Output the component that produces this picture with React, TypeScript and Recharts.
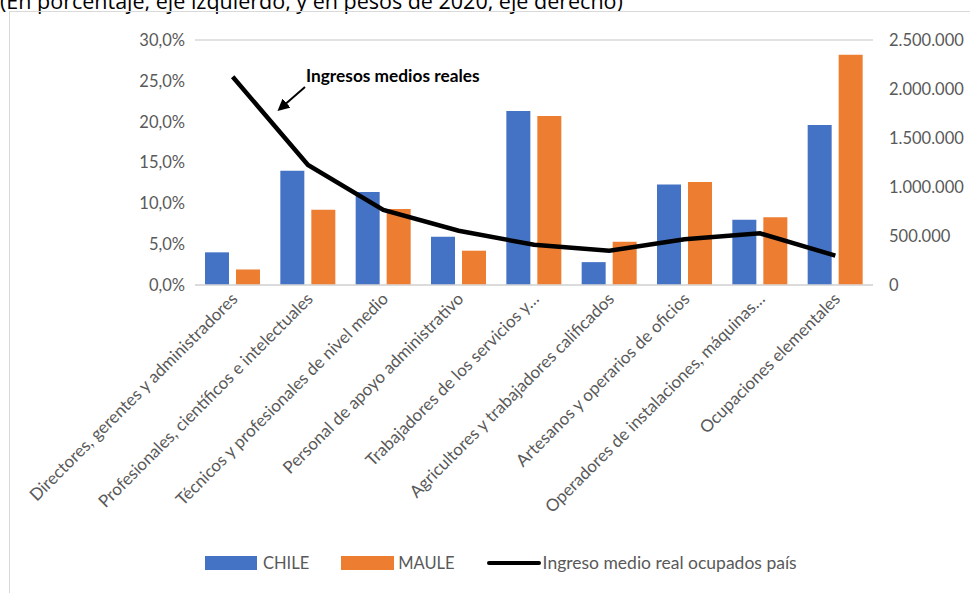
import {
  ComposedChart,
  Bar,
  Line,
  XAxis,
  YAxis,
  CartesianGrid,
} from "recharts";

const categorias = [
  "Directores, gerentes y administradores",
  "Profesionales, científicos e intelectuales",
  "Técnicos y profesionales de nivel medio",
  "Personal de apoyo administrativo",
  "Trabajadores de los servicios y…",
  "Agricultores y trabajadores calificados",
  "Artesanos y operarios de oficios",
  "Operadores de instalaciones, máquinas…",
  "Ocupaciones elementales",
];
const chile = [4.0, 14.0, 11.4, 5.9, 21.3, 2.8, 12.3, 8.0, 19.6];
const maule = [1.9, 9.2, 9.3, 4.2, 20.7, 5.3, 12.6, 8.3, 28.2];
const ingresoMedio = [
  2125000, 1224000, 765000, 554000, 410000, 350000, 466000, 527000, 300000,
];
const ticksIzq = [0, 5, 10, 15, 20, 25, 30];
const ticksDer = [0, 500000, 1000000, 1500000, 2000000, 2500000];

const data = categorias.map((name, i) => ({
  name,
  CHILE: chile[i],
  MAULE: maule[i],
  ingreso: ingresoMedio[i],
}));

const FONT = "Lato, 'Open Sans', sans-serif";
const GRIS = "#595959";

const fmtPct = (v: number) => v.toFixed(1).replace(".", ",") + "%";
const fmtPesos = (v: number) =>
  v === 0 ? "0" : String(v).replace(/\B(?=(\d{3})+(?!\d))/g, ".");

const XTick = (props: any) => {
  const { x, y, payload } = props;
  const ax = x + 6;
  const ay = y + 7;
  return (
    <text
      x={ax}
      y={ay}
      transform={`rotate(-45 ${ax} ${ay})`}
      textAnchor="end"
      fontSize={17}
      fontFamily={FONT}
      fill={GRIS}
    >
      {payload.value}
    </text>
  );
};

const Leyenda = () => (
  <div
    style={{
      position: "absolute",
      top: 552,
      left: 205,
      display: "flex",
      alignItems: "center",
      fontFamily: FONT,
      fontSize: 16.5,
      color: GRIS,
    }}
  >
    <span style={{ width: 52, height: 14, background: "#4472C4", display: "inline-block" }} />
    <span style={{ marginLeft: 6, marginRight: 32 }}>CHILE</span>
    <span style={{ width: 53, height: 14, background: "#ED7D31", display: "inline-block" }} />
    <span style={{ marginLeft: 4, marginRight: 32 }}>MAULE</span>
    <span style={{ width: 54, height: 4, background: "#000", borderRadius: 2, display: "inline-block" }} />
    <span style={{ marginLeft: 2, fontSize: 17.5 }}>Ingreso medio real ocupados país</span>
  </div>
);

export default function App() {
  return (
    <div
      style={{
        position: "absolute",
        left: 0,
        top: 0,
        width: 970,
        height: 593,
        overflow: "hidden",
        background: "#fff",
        fontFamily: FONT,
      }}
    >
      <div
        style={{
          position: "absolute",
          left: 0,
          top: -14,
          fontSize: 21.5,
          color: "#000",
          whiteSpace: "nowrap",
          fontFamily: "'Liberation Sans Narrow', 'Open Sans', sans-serif",
        }}
      >
        (En porcentaje, eje izquierdo, y en pesos de 2020, eje derecho)
      </div>
      <div
        style={{
          position: "absolute",
          left: 9,
          top: 11,
          width: 970,
          height: 600,
          border: "1.5px solid #d9d9d9",
        }}
      />
      <div style={{ position: "absolute", left: 0, top: 0 }}>
        <ComposedChart
          width={970}
          height={593}
          data={data}
          margin={{ top: 40, right: 0, bottom: 0, left: 0 }}
          barGap={7}
          barCategoryGap={10}
        >
          <CartesianGrid vertical={false} stroke="#d9d9d9" strokeWidth={1.5} />
          <XAxis
            dataKey="name"
            interval={0}
            tickLine={false}
            axisLine={{ stroke: "#d9d9d9", strokeWidth: 1.5 }}
            tick={<XTick />}
            height={308}
          />
          <YAxis
            yAxisId="izq"
            domain={[0, 30]}
            ticks={ticksIzq}
            tickFormatter={fmtPct}
            axisLine={false}
            tickLine={false}
            width={195}
            tickMargin={4}
            tick={{ fontSize: 16.5, fill: GRIS, fontFamily: FONT }}
          />
          <YAxis
            yAxisId="der"
            orientation="right"
            domain={[0, 2500000]}
            ticks={ticksDer}
            tickFormatter={fmtPesos}
            axisLine={false}
            tickLine={false}
            width={97}
            tickMargin={10}
            tick={{ fontSize: 16.5, fill: GRIS, fontFamily: FONT, textAnchor: "start" }}
          />
          <Bar yAxisId="izq" dataKey="CHILE" fill="#4472C4" isAnimationActive={false} />
          <Bar yAxisId="izq" dataKey="MAULE" fill="#ED7D31" isAnimationActive={false} />
          <Line
            yAxisId="der"
            dataKey="ingreso"
            stroke="#000"
            strokeWidth={4.5}
            dot={false}
            activeDot={false}
            isAnimationActive={false}
          />
        </ComposedChart>
      </div>
      <div
        style={{
          position: "absolute",
          left: 300,
          top: 65,
          padding: "0 6px",
          background: "#fff",
          fontWeight: 700,
          fontSize: 17.3,
          color: "#000",
          whiteSpace: "nowrap",
        }}
      >
        Ingresos medios reales
      </div>
      <svg
        style={{ position: "absolute", left: 0, top: 0 }}
        width={970}
        height={593}
        pointerEvents="none"
      >
        <defs>
          <marker id="punta" markerWidth="6" markerHeight="6" refX="3" refY="3" orient="auto">
            <path d="M0,0 L6,3 L0,6 Z" fill="#000" />
          </marker>
        </defs>
        <line x1={305} y1={87} x2={282} y2={107} stroke="#000" strokeWidth={2} markerEnd="url(#punta)" />
      </svg>
      <Leyenda />
    </div>
  );
}
